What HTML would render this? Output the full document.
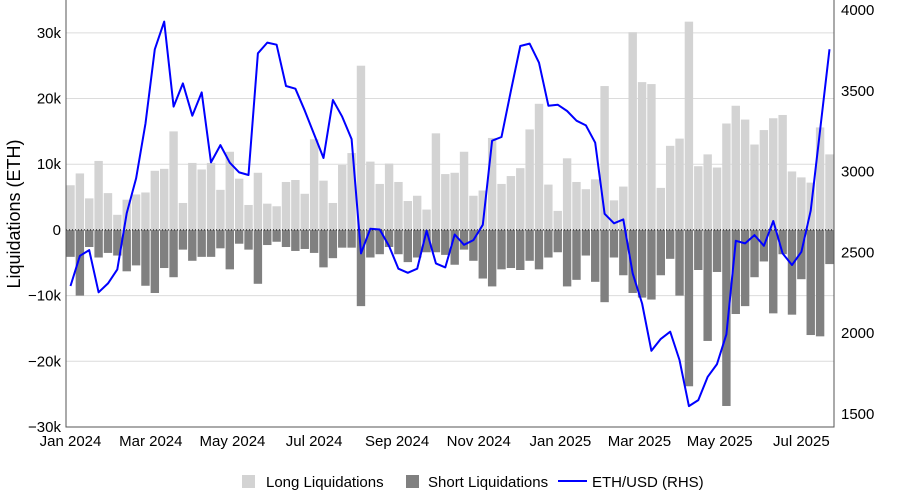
<!DOCTYPE html>
<html><head><meta charset="utf-8"><style>
body{margin:0;background:#fff;}
svg{display:block;font-family:"Liberation Sans Narrow","Liberation Sans",sans-serif;}
</style></head><body>
<svg id="chart" width="900" height="500" viewBox="0 0 900 500" xmlns="http://www.w3.org/2000/svg">
<g id="grid"></g>
<g id="bars"></g>
<g id="axes"></g>
<g id="line"></g>
<text transform="translate(20,214) rotate(-90)" text-anchor="middle" font-size="18" fill="#000">Liquidations (ETH)</text>
<g>
<rect x="242" y="475" width="13" height="13" fill="#d3d3d3"/>
<text x="266" y="487" font-size="15">Long Liquidations</text>
<rect x="406" y="475" width="13" height="13" fill="#808080"/>
<text x="428" y="487" font-size="15">Short Liquidations</text>
<line x1="558" y1="481" x2="587" y2="481" stroke="#0000ff" stroke-width="2"/>
<text x="592" y="487" font-size="15">ETH/USD (RHS)</text>
</g>
</svg>
<script>
const longLiq=[6.8,8.6,4.8,10.5,5.6,2.3,4.6,5.4,5.7,9.0,9.3,15.0,4.1,10.2,9.2,10.2,6.1,11.9,7.8,3.8,8.7,4.0,3.6,7.3,7.6,5.5,13.8,7.5,4.1,9.9,11.7,25.0,10.4,7.0,10.1,7.3,4.4,5.2,3.1,14.7,8.5,8.7,11.9,5.2,6.0,14.0,7.0,8.2,9.4,15.3,19.2,6.9,2.9,10.9,7.3,6.2,7.7,21.9,4.5,6.6,30.1,22.5,22.2,6.4,12.8,13.9,31.7,9.7,11.5,9.5,16.2,18.9,16.8,13.0,15.2,17.0,17.5,8.9,8.0,7.2,15.6,11.5];
const shortLiq=[-4.1,-10.0,-2.6,-4.2,-3.5,-3.9,-6.3,-5.4,-8.5,-9.6,-5.8,-7.2,-3.0,-4.7,-4.1,-4.1,-2.8,-6.0,-2.1,-3.0,-8.2,-2.3,-1.8,-2.6,-3.2,-2.9,-3.5,-5.7,-4.3,-2.7,-2.7,-11.6,-4.2,-3.7,-2.6,-3.7,-4.9,-4.2,-3.4,-3.4,-3.8,-5.3,-3.0,-4.7,-7.4,-8.6,-6.0,-5.8,-6.1,-4.7,-6.0,-4.2,-3.4,-8.6,-7.6,-3.9,-7.9,-11.0,-4.2,-6.9,-9.6,-10.3,-10.6,-6.9,-4.4,-10.0,-23.8,-6.1,-16.9,-6.4,-26.8,-12.8,-11.6,-7.2,-4.8,-12.7,-3.7,-12.9,-7.5,-16.0,-16.2,-5.2];
const ethPrice=[2292,2479,2514,2253,2308,2395,2742,2958,3298,3757,3928,3402,3546,3346,3490,3057,3164,3055,2995,2979,3732,3798,3785,3530,3513,3377,3231,3084,3443,3340,3201,2494,2646,2642,2539,2399,2374,2399,2634,2432,2407,2611,2547,2576,2671,3191,3214,3500,3777,3792,3674,3408,3414,3375,3315,3286,3179,2739,2680,2704,2370,2184,1891,1965,2009,1834,1549,1586,1730,1809,1993,2572,2556,2607,2541,2694,2494,2422,2504,2758,3257,3757];
const leftTicks=[30,20,10,0,-10,-20,-30];
const rightTicks=[4000,3500,3000,2500,2000,1500];
const xTickLabels=["Jan 2024","Mar 2024","May 2024","Jul 2024","Sep 2024","Nov 2024","Jan 2025","Mar 2025","May 2025","Jul 2025"];
const xTickDays=[0,60,121,182,244,305,366,425,485,546];

const NS="http://www.w3.org/2000/svg";
const L=66,R=834,T=0,B=427;
const yL=v=>T+(35-v)/65*(B-T);
const yR=p=>10+(4000-p)*404/2500;
const xDay=d=>70.5+d*9.37/7;
const xWeek=i=>xDay(i*7);
const bw=8.4;
function mk(tag,attrs,parent){const e=document.createElementNS(NS,tag);for(const k in attrs)e.setAttribute(k,attrs[k]);parent.appendChild(e);return e;}
const grid=document.getElementById('grid'),bars=document.getElementById('bars'),axes=document.getElementById('axes'),line=document.getElementById('line');
leftTicks.forEach(v=>{
 if(v!==0){const g=mk('line',{x1:L,x2:R,y1:yL(v),y2:yL(v),stroke:'#dcdcdc','stroke-width':1},grid);
 
 }
 const t=mk('text',{x:61,y:yL(v)+5,'text-anchor':'end','font-size':15,fill:'#000'},axes);
 t.textContent=(v<0?'\u2212':'')+Math.abs(v)+(v!==0?'k':'');
 
 
});
rightTicks.forEach(p=>{
 const t=mk('text',{x:841,y:yR(p)+5,'font-size':15,fill:'#000'},axes);
 t.textContent=p;
 
 
});
xTickLabels.forEach((s,i)=>{
 const t=mk('text',{x:xDay(xTickDays[i]),y:446,'text-anchor':'middle','font-size':15,fill:'#000'},axes);
 t.textContent=s;
 
 
});
longLiq.forEach((v,i)=>{
 const r=mk('rect',{x:xWeek(i)-bw/2,y:yL(v),width:bw,height:yL(0)-yL(v),fill:'#d3d3d3'},bars);
 
 
});
shortLiq.forEach((v,i)=>{
 const r=mk('rect',{x:xWeek(i)-bw/2,y:yL(0),width:bw,height:yL(v)-yL(0),fill:'#808080'},bars);
 
 
});
const z=mk('line',{x1:L,x2:R,y1:yL(0),y2:yL(0),stroke:'#000','stroke-width':1,'stroke-dasharray':'1,2'},axes);


const ax=mk('path',{d:`M${L},${T}V${B}H${R}V${T}`,fill:'none',stroke:'#555','stroke-width':1},axes);


const pl=mk('polyline',{points:ethPrice.map((p,i)=>xWeek(i).toFixed(1)+','+yR(p).toFixed(1)).join(' '),fill:'none',stroke:'#0000ff','stroke-width':2,'stroke-linejoin':'round'},line);


</script>
</body></html>
